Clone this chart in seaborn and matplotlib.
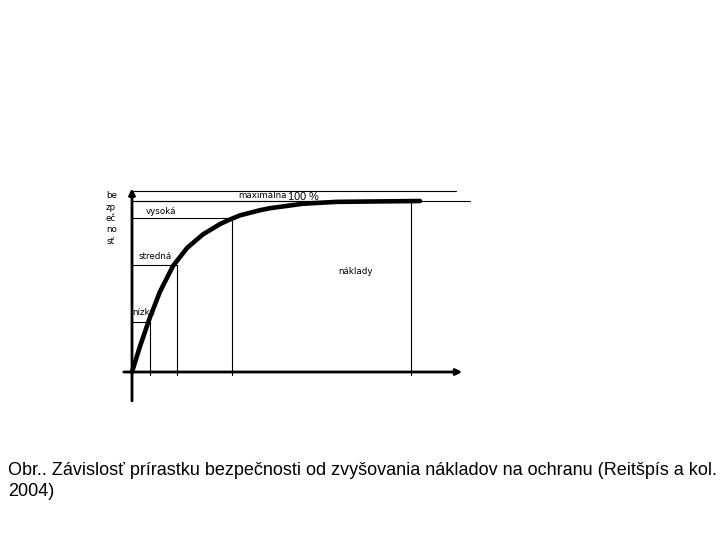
import pandas as pd
import seaborn as sns
import matplotlib.pyplot as plt

## krivka: naklady vs bezpecnost (odcitane z obrazka)
naklady = [0, 8, 18, 28, 41, 55, 71, 88, 98, 108, 128, 138, 171, 205, 288]
bezpecnost = [0, 15, 32, 47, 62, 72.5, 80.5, 86.5, 89.2, 91.6, 94.6, 95.8, 98.4, 99.5, 100]

## urovne bezpecnosti
urovne = ['nízka', 'stredná', 'vysoká', 'maximálna']
urovne_naklady = [18, 45, 100, 279]
urovne_bezpecnost = [29.4, 62.6, 89.9, 100]

popis_y = ['be', 'zp', 'eč', 'no', 'sť']
popis_x = 'náklady'
maximum = '100 %'
titulok = ('Obr.. Závislosť prírastku bezpečnosti od zvyšovania nákladov na ochranu (Reitšpís a kol.\n'
           '2004)')

sns.set_theme(style='white')
plt.rcParams['font.family'] = ['DejaVu Sans']
plt.rcParams['text.color'] = 'black'

fig = plt.figure(figsize=(7.2, 5.4), dpi=100)
ax = fig.add_axes([0, 0, 1, 1])
# 1 jednotka x = 1 px, y: 100 % = 171 px
ax.set_xlim(-132, 588)
ax.set_ylim(-98.25, 217.54)
ax.axis('off')

##osi so sipkami
ax.annotate('', xy=(333, 0), xytext=(-11, 0),
            arrowprops=dict(arrowstyle='-|>', color='black', lw=2, mutation_scale=9))
ax.annotate('', xy=(0, 109), xytext=(0, -18.5),
            arrowprops=dict(arrowstyle='-|>', color='black', lw=2, mutation_scale=9))

##horne ciary
ax.plot([0, 324], [106, 106], color='black', lw=0.8)
ax.plot([0, 338], [100, 100], color='black', lw=0.8)

##urovne
for c, s in zip(urovne_naklady, urovne_bezpecnost):
    ax.plot([0, c], [s, s], color='black', lw=0.8)
    ax.plot([c, c], [-2, s], color='black', lw=0.8)

##krivka
df = pd.DataFrame({'naklady': naklady, 'bezpecnost': bezpecnost})
sns.lineplot(ax=ax, data=df, x='naklady', y='bezpecnost', color='black', lw=3.3)
ax.set_xlabel('')
ax.set_ylabel('')

##popisy
fs = 6.3
ax.text(0.5, 35, urovne[0], fontsize=fs, va='center', ha='left')
ax.text(6.5, 67.4, urovne[1], fontsize=fs, va='center', ha='left')
ax.text(14, 93.8, urovne[2], fontsize=fs, va='center', ha='left')
ax.text(106, 103.5, urovne[3], fontsize=fs, va='center', ha='left')
ax.text(156, 102.2, maximum, fontsize=7.8, va='center', ha='left', family='Liberation Sans')
ax.text(206, 58.7, popis_x, fontsize=fs, va='center', ha='left')
for i, t in enumerate(popis_y):
    ax.text(-26, 103 - i * 6.6, t, fontsize=fs, va='center', ha='left')

fig.text(8 / 720, 1 - 481 / 540, titulok, fontsize=13, family='Liberation Sans',
         va='center', ha='left', linespacing=1.25)
plt.savefig('out.png', dpi=100)
